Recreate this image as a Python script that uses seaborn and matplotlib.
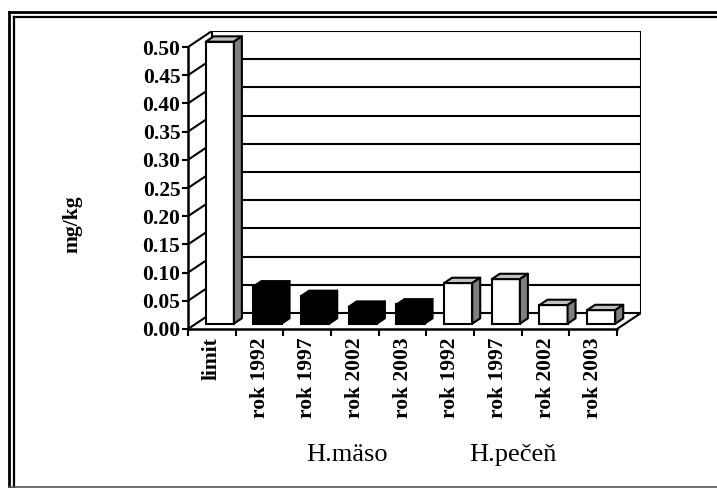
import numpy as np
import pandas as pd
import matplotlib
matplotlib.use("Agg")
import matplotlib.pyplot as plt
from matplotlib.patches import Polygon
from matplotlib.lines import Line2D
import seaborn as sns

# ---- data ----
bar_ids = ["limit", "maso 1992", "maso 1997", "maso 2002", "maso 2003",
           "pecen 1992", "pecen 1997", "pecen 2002", "pecen 2003"]
tick_labels = ["limit", "rok 1992", "rok 1997", "rok 2002", "rok 2003",
               "rok 1992", "rok 1997", "rok 2002", "rok 2003"]
groups = ["limit", "maso", "maso", "maso", "maso",
          "pecen", "pecen", "pecen", "pecen"]
values = [0.50, 0.066, 0.049, 0.030, 0.034, 0.072, 0.079, 0.033, 0.024]
y_ticks = [0.00, 0.05, 0.10, 0.15, 0.20, 0.25, 0.30, 0.35, 0.40, 0.45, 0.50]
group_titles = ["H.mäso", "H.pečeň"]

df = pd.DataFrame({"id": bar_ids, "value": values, "group": groups})

# ---- style ----
W, H = 717, 488
DPI = 100
SERIF = ["Liberation Serif", "DejaVu Serif"]
face = {"limit": "white", "maso": "black", "pecen": "white"}
top_col = {"limit": "#c0c0c0", "maso": "black", "pecen": "#c0c0c0"}
side_col = {"limit": "#808080", "maso": "black", "pecen": "#808080"}
DX, DY = 0.503, 0.0284   # depth offset of the 3D box in data units
LW = 1.5
FS = 15.5

fig = plt.figure(figsize=(W / DPI, H / DPI), dpi=DPI)
fig.patch.set_facecolor("white")
left, right, top, bottom = 188, 641, 31, 329
ax = fig.add_axes([left / W, 1 - bottom / H, (right - left) / W, (bottom - top) / H])
ax.set_facecolor("none")

sns.barplot(data=df, x="id", y="value", hue="group", palette=face, dodge=False,
            width=0.59, edgecolor="black", linewidth=LW, legend=False, ax=ax,
            zorder=3)

ax.set_xlim(-0.5, 8.5 + DX)
ax.set_ylim(0, 0.5 + DY)

# walls and floor
x0, x1 = -0.5, 8.5
for v in y_ticks:
    ax.plot([x0 + DX, x1 + DX], [v + DY, v + DY], color="black", lw=LW, zorder=1,
            solid_capstyle="butt")
    ax.plot([x0, x0 + DX], [v, v + DY], color="black", lw=LW, zorder=1)
ax.plot([x1 + DX, x1 + DX], [DY, 0.5 + DY], color="black", lw=LW, zorder=1)
ax.plot([x0 + DX, x0 + DX], [DY, 0.5 + DY], color="black", lw=LW, zorder=1)
ax.plot([x1, x1 + DX], [0, DY], color="black", lw=LW, zorder=1)

# bars: shift front faces to one third depth, add top and side faces
patches = sorted(ax.patches, key=lambda p: p.get_x())
for p, g in zip(patches, groups):
    p.set_x(p.get_x() + DX / 3)
    p.set_y(DY / 3)
    p.set_zorder(3)
    bx, by, bw, bh = p.get_x(), p.get_y(), p.get_width(), p.get_height()
    dx, dy = DX / 3, DY / 3
    topf = Polygon([(bx, by + bh), (bx + bw, by + bh), (bx + bw + dx, by + bh + dy),
                    (bx + dx, by + bh + dy)], closed=True, facecolor=top_col[g],
                   edgecolor="black", lw=LW, zorder=3, joinstyle="round")
    side = Polygon([(bx + bw, by), (bx + bw + dx, by + dy), (bx + bw + dx, by + bh + dy),
                    (bx + bw, by + bh)], closed=True, facecolor=side_col[g],
                   edgecolor="black", lw=LW, zorder=3, joinstyle="round")
    ax.add_patch(topf)
    ax.add_patch(side)

# axes
for s in ["top", "right"]:
    ax.spines[s].set_visible(False)
ax.spines["left"].set_bounds(0, 0.5)
ax.spines["bottom"].set_bounds(-0.5, 8.5)
for s in ["left", "bottom"]:
    ax.spines[s].set_linewidth(1.8)
    ax.spines[s].set_zorder(4)

ax.set_yticks(y_ticks)
ax.set_yticklabels([f"{v:.2f}" for v in y_ticks], fontfamily=SERIF,
                   fontweight="bold", fontsize=FS)
ax.tick_params(axis="y", direction="out", length=4.5, width=LW, pad=1)

ax.set_xticks(range(len(tick_labels)))
ax.set_xticklabels(tick_labels, rotation=90, fontfamily=SERIF,
                   fontweight="bold", fontsize=FS)
ax.set_xticks(np.arange(-0.5, 9.0, 1.0), minor=True)
ax.tick_params(axis="x", which="major", length=0, pad=6)
ax.tick_params(axis="x", which="minor", direction="out", length=5, width=LW)
ax.set_xlabel("")
ax.set_ylabel("")

fig.text(72 / W, 1 - 224 / H, "mg/kg", rotation=90, ha="center", va="center",
         fontfamily=SERIF, fontweight="bold", fontsize=FS)
fig.text(347 / W, 1 - 455 / H, group_titles[0], ha="center", va="center",
         fontfamily=SERIF, fontsize=19)
fig.text(513 / W, 1 - 455 / H, group_titles[1], ha="center", va="center",
         fontfamily=SERIF, fontsize=19)

# double frame
def fline(xs, ys, lw, color="black"):
    fig.add_artist(Line2D([x / W for x in xs], [1 - y / H for y in ys],
                          lw=lw, color=color, transform=fig.transFigure))

fline([9, W], [12, 12], 2.0)
fline([9, 9], [12, H], 2.0)
fline([14, W], [17, 17], 1.6)
fline([14, 14], [17, H], 1.6)
fline([9, W], [487, 487], 1.2, color="#555555")

fig.savefig("out.png", dpi=DPI, facecolor="white")
